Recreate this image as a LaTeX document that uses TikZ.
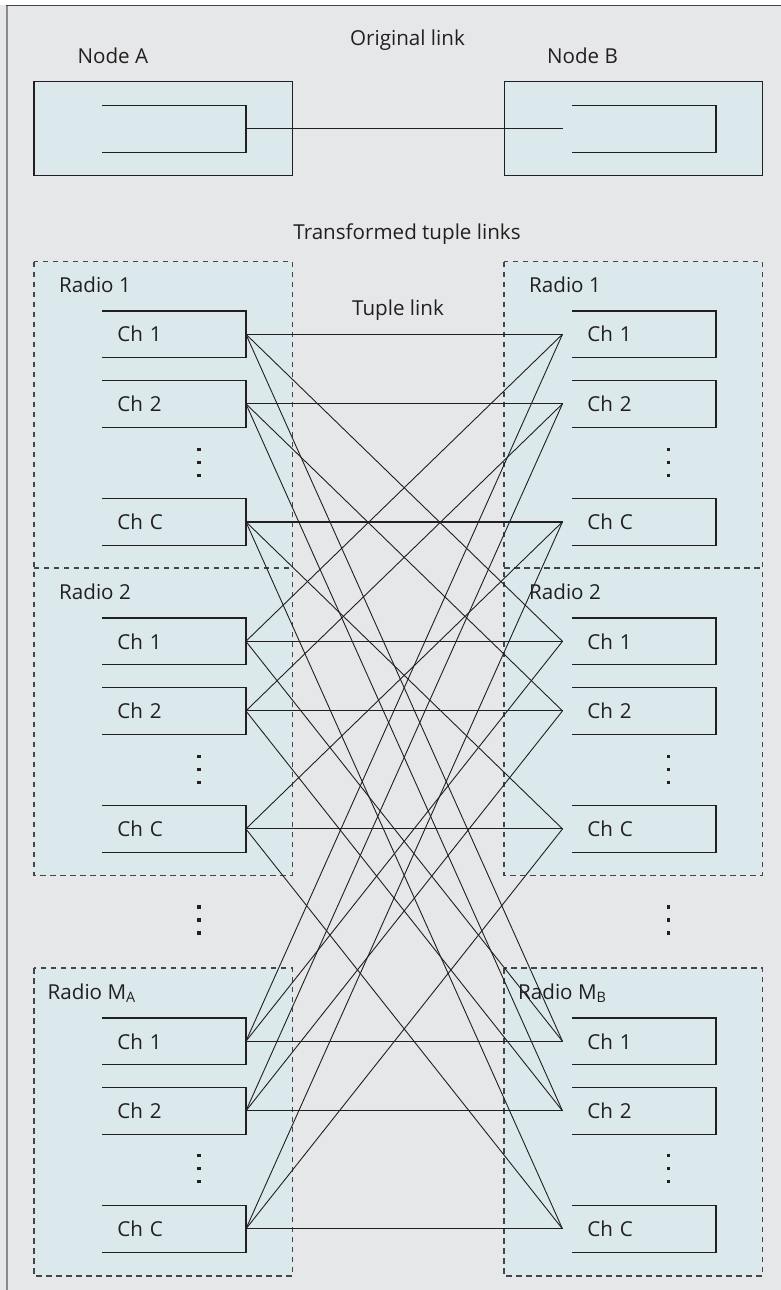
\documentclass[tikz,border=0pt]{standalone}
\usepackage{fontspec}
\setmainfont{Open Sans}
\usetikzlibrary{calc}
\definecolor{bggray}{HTML}{E6E7E8}
\definecolor{boxblue}{HTML}{DBE9EC}
\definecolor{ink}{HTML}{231F20}
\definecolor{dashgray}{HTML}{454545}
\definecolor{framegray}{HTML}{8A8A8A}

\begin{document}
\begin{tikzpicture}[x=1pt,y=-1pt,
  txt/.style={font=\fontsize{20.6}{24}\selectfont, text=ink, inner sep=0pt},
  outerbox/.style={draw=ink, fill=boxblue, line width=1.2pt, inner sep=0pt},
  chbox/.style={txt, minimum height=46.3pt, text width=113.4pt, inner xsep=15pt, inner ysep=0pt, align=left},
  chline/.style={draw=ink, line width=1.3pt},
  radiofill/.style={fill=boxblue, inner sep=0pt, minimum width=258pt},
  dashline/.style={draw=dashgray, line width=1.3pt, dash pattern=on 5.5pt off 4.5pt},
  link/.style={draw=ink, line width=0.9pt},
  stackdots/.pic={\foreach \k in {-13,0,13} \fill[ink] (-1.7,\k-1.7) rectangle (1.7,\k+1.7);}
]
\useasboundingbox (0,0) rectangle (781,1290);

% page background and frame
\fill[bggray] (0,0) rectangle (781,1290);
\fill[white] (0,0) rectangle (781,5);
\draw[framegray, line width=2pt] (6.7,5.2) -- (6.7,1290);
\draw[ink!85, line width=1.3pt] (5.7,5.7) -- (781,5.7);

% original link: the two nodes
\node[outerbox, minimum width=258.3pt, minimum height=94pt] (NAbox) at (163.15,128.7) {};
\node[outerbox, minimum width=258pt, minimum height=94pt] (NBbox) at (633.3,128.7) {};
\node[chbox] (NAin) at (174,128.85) {};
\node[chbox] (NBin) at (644,128.85) {};
\coordinate (NBport) at ([xshift=-9.6pt]NBin.west);
\foreach \n in {NAin,NBin}
  \draw[chline] (\n.north west) -- (\n.north east) -- (\n.south east) -- (\n.south west);

\node[txt, anchor=base] (tA) at (112.8,63.3) {Node A};
\node[txt, anchor=base] (tB) at (582.5,63.3) {Node B};
\node[txt, anchor=base] (tOrig) at (407.5,46) {Original link};
\node[txt, anchor=base] (tTrans) at (407,239.3) {Transformed tuple links};
\node[txt, anchor=base] (tTuple) at (398,315) {Tuple link};

% radio boxes
\node[radiofill, minimum height=306.6pt] (LR1) at (163.15,415) {};
\node[radiofill, minimum height=306.7pt] (LR2) at (163.15,721.65) {};
\node[radiofill, minimum height=307.4pt] (LRM) at (163.15,1122) {};
\node[radiofill, minimum height=306.6pt] (RR1) at (633.3,415) {};
\node[radiofill, minimum height=306.7pt] (RR2) at (633.3,721.65) {};
\node[radiofill, minimum height=307.4pt] (RRM) at (633.3,1122) {};
\draw[dashline] (LR1.north west) rectangle (LR2.south east);
\draw[dashline] (LR2.north west) -- (LR2.north east);
\draw[dashline] (LRM.north west) rectangle (LRM.south east);
\draw[dashline] (RR1.north west) rectangle (RR2.south east);
\draw[dashline] (RR2.north west) -- (RR2.north east);
\draw[dashline] (RRM.north west) rectangle (RRM.south east);

\node[txt, anchor=base west] (tLR1) at (59,292.3) {Radio 1};
\node[txt, anchor=base west] (tRR1) at (529,292.3) {Radio 1};
\node[txt, anchor=base west] (tLR2) at (59,599.3) {Radio 2};
\node[txt, anchor=base west] (tRR2) at (529,599.3) {Radio 2};
\node[txt, anchor=base west] (tLRM) at (47.5,999) {Radio M\textsubscript{A}};
\node[txt, anchor=base west] (tRRM) at (518,999) {Radio M\textsubscript{B}};

% channel boxes of every radio
\foreach \r/\dy in {1/0,2/307.1,M/707.1}{
  \foreach \c/\y/\t in {1/334.2/Ch 1,2/403.8/Ch 2,C/521.8/Ch C}{
    \node[chbox] (L\r\c) at (174,\y+\dy) {\t};
    \node[chbox] (R\r\c) at (644,\y+\dy) {\t};
    \coordinate (RP\r\c) at ([xshift=-9.6pt]R\r\c.west);
    \draw[chline] (L\r\c.north west) -- (L\r\c.north east) -- (L\r\c.south east) -- (L\r\c.south west);
    \draw[chline] (R\r\c.north west) -- (R\r\c.north east) -- (R\r\c.south east) -- (R\r\c.south west);
  }
}

% elided channels and radios
\foreach \yy in {462.3,769.7,1168.7}{
  \pic at (199,\yy) {stackdots};
  \pic at (668.7,\yy) {stackdots};
}
\pic at (199,920) {stackdots};
\pic at (668.7,920) {stackdots};

% links
\draw[link] (NAin.east) -- (NBport);
\foreach \c in {1,2,C}{
  \foreach \a in {1,2,M}{
    \foreach \b in {1,2,M}{
      \draw[link] (L\a\c.east) -- (RP\b\c);
    }
  }
}
\draw[link, line width=1.5pt] (L1C.east) -- (RP1C);
\end{tikzpicture}
\end{document}
